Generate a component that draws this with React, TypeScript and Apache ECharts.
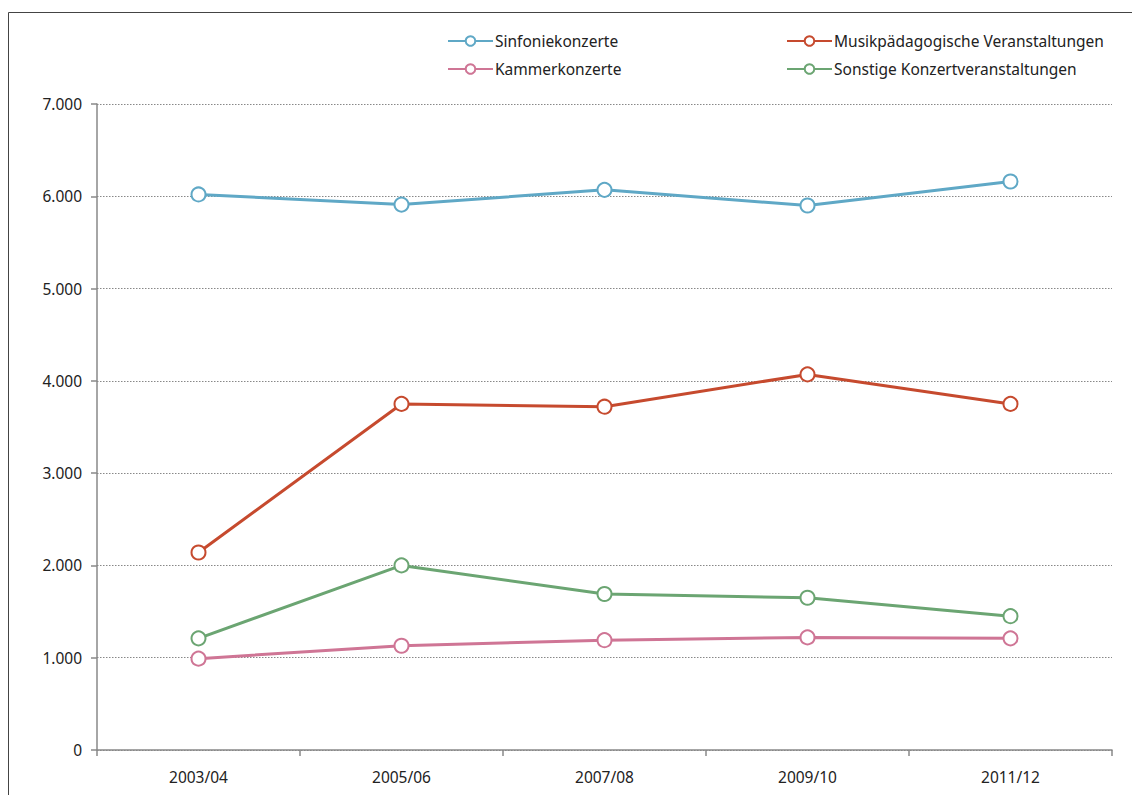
import React, { useEffect, useRef } from "react";
import * as echarts from "echarts";

const categories = ["2003/04", "2005/06", "2007/08", "2009/10", "2011/12"];
const sinfonie = [6020, 5910, 6070, 5900, 6160];
const musik = [2140, 3750, 3720, 4070, 3750];
const kammer = [990, 1130, 1190, 1220, 1210];
const sonstige = [1210, 2000, 1690, 1650, 1450];
const yTicks = [0, 1000, 2000, 3000, 4000, 5000, 6000, 7000];

const FONT = "'Noto Sans', sans-serif";
const FS = 15.5;

function fmt(v: number) {
  return v === 0 ? "0" : String(v).replace(/\B(?=(\d{3})+(?!\d))/g, ".");
}

export default function App() {
  const ref = useRef<HTMLDivElement>(null);
  useEffect(() => {
    if (!ref.current) return;
    const chart = echarts.init(ref.current, undefined, { renderer: "svg" });
    const mk = (name: string, data: number[], color: string) => ({
      name,
      type: "line",
      data,
      symbol: "emptyCircle",
      symbolSize: 14,
      showAllSymbol: true,
      lineStyle: { color, width: 3 },
      itemStyle: { color, borderColor: color, borderWidth: 1.5 },
      emphasis: { disabled: true },
    });
    const legendCommon = {
      orient: "vertical",
      top: 18,
      itemWidth: 45,
      itemHeight: 12,
      itemGap: 8,
      textStyle: { fontFamily: FONT, fontSize: FS, color: "#222", lineHeight: 20, padding: [0, 0, 0, -3] },
      selectedMode: false,
    };
    chart.setOption({
      animation: false,
      textStyle: { fontFamily: FONT },
      graphic: [
        {
          type: "polyline",
          shape: { points: [[0.5, 1000], [0.5, 4.5], [1300, 4.5]] },
          style: { stroke: "#444", lineWidth: 1, fill: null },
          silent: true,
        },
      ],
      legend: [
        { ...legendCommon, left: 434, data: ["Sinfoniekonzerte", "Kammerkonzerte"] },
        {
          ...legendCommon,
          left: 773,
          data: ["Musikpädagogische Veranstaltungen", "Sonstige Konzertveranstaltungen"],
        },
      ],
      grid: { left: 89, right: 28, top: 96, bottom: 45, containLabel: false },
      xAxis: {
        type: "category",
        data: categories,
        boundaryGap: true,
        axisLine: { lineStyle: { color: "#888", width: 1.5 } },
        axisTick: { show: true, length: 6, alignWithLabel: false, lineStyle: { color: "#888", width: 1.5 } },
        axisLabel: { color: "#222", fontSize: FS, margin: 19, fontFamily: FONT },
        splitLine: { show: false },
      },
      yAxis: {
        type: "value",
        min: 0,
        max: 7000,
        interval: 1000,
        axisLine: { show: true, lineStyle: { color: "#888", width: 1.5 } },
        axisTick: { show: true, length: 6, lineStyle: { color: "#888", width: 1.5 } },
        axisLabel: {
          color: "#222",
          fontSize: FS,
          margin: 15,
          fontFamily: FONT,
          formatter: (v: number) => (yTicks.includes(v) ? fmt(v) : ""),
        },
        splitLine: { show: true, lineStyle: { color: "#888", type: [1.5, 1.5], width: 1 } },
      },
      series: [
        mk("Sinfoniekonzerte", sinfonie, "#5fa8c6"),
        mk("Musikpädagogische Veranstaltungen", musik, "#c64a2e"),
        mk("Kammerkonzerte", kammer, "#cf7595"),
        mk("Sonstige Konzertveranstaltungen", sonstige, "#6ba572"),
      ],
    });
    return () => chart.dispose();
  }, []);
  return <div ref={ref} style={{ width: 1132, height: 787 }} />;
}
